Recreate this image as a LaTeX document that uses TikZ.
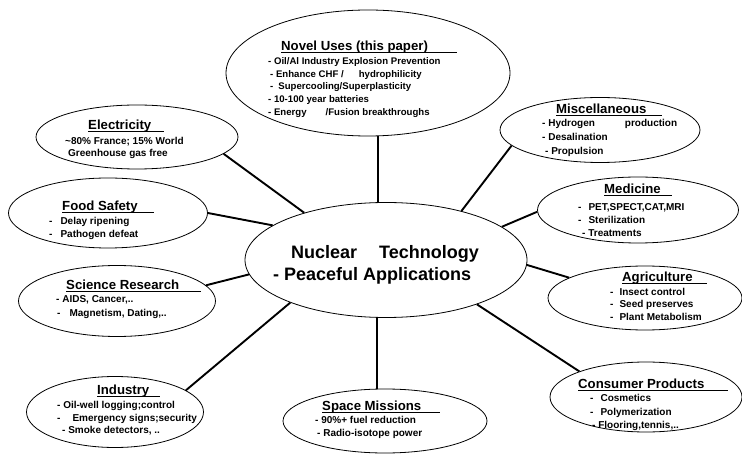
\documentclass[tikz,border=0pt]{standalone}
\usepackage{fontspec}
\setmainfont{Liberation Sans}
\usetikzlibrary{shapes.geometric}
\newcommand\hul[2]{\setbox0\hbox{#1}\rlap{\rule[-2bp]{\dimexpr\wd0+#2\relax}{0.9bp}}\box0}
\tikzset{
  bubble/.style={ellipse, draw, line width=0.8bp, inner sep=0pt, fill=white},
  conn/.style={line width=1.9bp},
  hd/.style={anchor=base west, inner sep=0pt, font=\bfseries\fontsize{13.2bp}{15bp}\selectfont},
  body/.style={anchor=base west, inner sep=0pt, font=\bfseries\fontsize{10bp}{#1}\selectfont},
  body/.default=13bp
}
\newcommand\tb[1]{\begin{tabular}[t]{@{}l@{}}#1\end{tabular}}
\begin{document}
\begin{tikzpicture}[x=1bp,y=-1bp]
\useasboundingbox (0,0) rectangle (742,454);
% ellipses
\node[bubble, minimum width=282bp, minimum height=115bp] (c) at (386,260) {};
\node[bubble, minimum width=284bp, minimum height=126bp] (nov) at (368,73) {};
\node[bubble, minimum width=202bp, minimum height=64bp] (ele) at (137,137) {};
\node[bubble, minimum width=199bp, minimum height=70bp] (food) at (108,213) {};
\node[bubble, minimum width=197bp, minimum height=71bp] (sci) at (117,301) {};
\node[bubble, minimum width=177bp, minimum height=71bp] (ind) at (115,412) {};
\node[bubble, minimum width=204bp, minimum height=64bp] (spa) at (385,421) {};
\node[bubble, minimum width=192bp, minimum height=70bp] (con) at (646,397) {};
\node[bubble, minimum width=194bp, minimum height=64bp] (agr) at (645,298) {};
\node[bubble, minimum width=201bp, minimum height=66bp] (med) at (638,210) {};
\node[bubble, minimum width=200bp, minimum height=65bp] (mis) at (600,130) {};
% connectors
\draw[conn] (c.98.9) -- (c.98.9 |- nov.south);
\draw[conn] (c.150.8) -- (ele.-11.6);
\draw[conn] (c.163.7) -- (food.0.6);
\draw[conn] (c.186.1) -- (sci.10.4);
\draw[conn] (c.204) -- (ind.17);
\draw[conn] (c.261.1) -- (c.261.1 |- spa.north);
\draw[conn] (c.-26.1) -- (con.159.8);
\draw[conn] (c.-2.8) -- (agr.165.2);
\draw[conn] (c.16.1) -- (med.181.1);
\draw[conn] (c.33) -- (mis.190.9);
% central text
\node[anchor=base west, inner sep=0pt, font=\bfseries\fontsize{18bp}{22bp}\selectfont] (ct) at (273,258.3)
  {\tb{\hspace*{18bp}Nuclear\hspace{22bp}Technology\\- Peaceful Applications}};
% Novel uses
\node[hd] (nov-h) at (281,51) {\hul{Novel Uses (this paper)}{29bp}};
\node[anchor=base west, inner sep=0pt, font=\bfseries\fontsize{9.6bp}{12.75bp}\selectfont] (nov-b) at (268,64.5)
  {\tb{- Oil/Al Industry Explosion Prevention\\
  \hspace*{2bp}- Enhance CHF /\hspace{15bp}hydrophilicity\\
  \hspace*{2bp}-\hspace{5bp}Supercooling/Superplasticity\\
  - 10-100 year batteries\\
  - Energy\hspace{19bp}/Fusion breakthroughs}};
% Electricity
\node[hd] (ele-h) at (88,129.5) {\hul{Electricity}{13bp}};
\node[body=12bp] (ele-b) at (65,144.5)
  {\tb{\textasciitilde80\% France; 15\% World\\ \hspace*{3bp}Greenhouse gas free}};
% Food safety
\node[hd] (food-h) at (62,210.5) {\hul{Food Safety}{16bp}};
\node[body=13bp] (food-b) at (49,224.5)
  {\tb{-\hspace{8bp}Delay ripening\\ -\hspace{8bp}Pathogen defeat}};
% Science research
\node[hd] (sci-h) at (66,289.5) {\hul{Science Research}{22bp}};
\node[body=14bp] (sci-b) at (56,302.5)
  {\tb{- AIDS, Cancer,..\\ \hspace*{1bp}-\hspace{9bp}Magnetism, Dating,..}};
% Industry
\node[hd] (ind-h) at (97,394.5) {\hul{Industry}{11bp}};
\node[body=12.5bp] (ind-b) at (57,408.5)
  {\tb{- Oil-well logging;control\\ -\hspace{12bp}Emergency signs;security\\ \hspace*{5bp}- Smoke detectors, ..}};
% Space missions
\node[hd] (spa-h) at (322,410.5) {\hul{Space Missions}{19bp}};
\node[body=13bp] (spa-b) at (315,423.5)
  {\tb{- 90\%+ fuel reduction\\ \hspace*{2bp}- Radio-isotope power}};
% Consumer products
\node[hd] (con-h) at (578,388.5) {\hul{Consumer Products}{24bp}};
\node[body=13.5bp] (con-b) at (590,401.5)
  {\tb{-\hspace{7bp}Cosmetics\\ -\hspace{7bp}Polymerization\\ \hspace*{2bp}- Flooring,tennis,..}};
% Agriculture
\node[hd] (agr-h) at (622,281.5) {\hul{Agriculture}{14bp}};
\node[body=12.5bp] (agr-b) at (610,295.5)
  {\tb{-\hspace{6bp}Insect control\\ -\hspace{6bp}Seed preserves\\ -\hspace{6bp}Plant Metabolism}};
% Medicine
\node[hd] (med-h) at (604,194) {\hul{Medicine}{11bp}};
\node[body=13bp] (med-b) at (578,210.5)
  {\tb{-\hspace{7bp}PET,SPECT,CAT,MRI\\ -\hspace{7bp}Sterilization\\ \hspace*{4bp}- Treatments}};
% Miscellaneous
\node[hd] (mis-h) at (556,113.5) {\hul{Miscellaneous}{16bp}};
\node[body=14bp] (mis-b) at (542,126.5)
  {\tb{- Hydrogen\hspace{30bp}production\\ - Desalination\\ \hspace*{3bp}- Propulsion}};
\end{tikzpicture}
\end{document}
